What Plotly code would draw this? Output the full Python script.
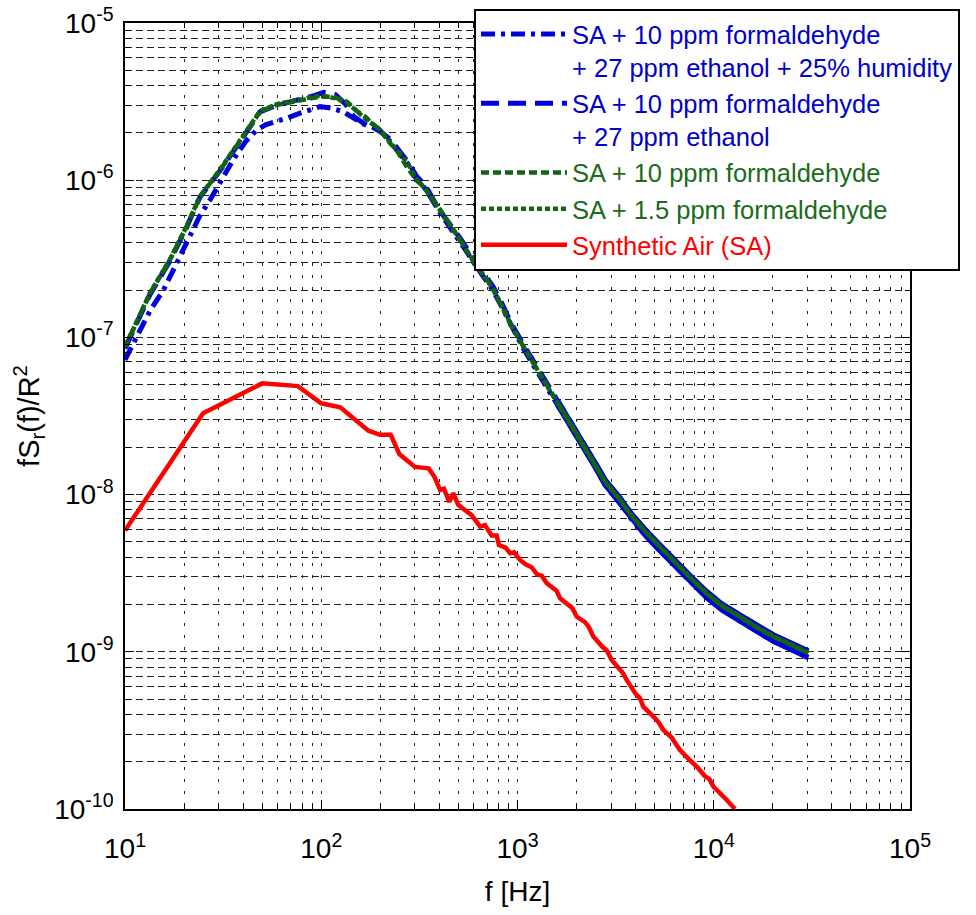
import plotly.graph_objects as go

# ---------------- data ----------------
f_hum = [10, 11.5, 13.5, 15.7, 18.5, 21.4, 24, 27.1, 31, 35.6, 41, 46.9, 52, 59.3, 68, 78, 88, 98.6, 112, 129, 145, 164, 182, 199,
         225, 250, 280, 306, 340, 403, 460, 509, 560, 619, 690, 753, 830, 916, 1071, 1250, 1400, 1600, 1800, 2050, 2300, 2550,
         2793, 3330, 3800, 4550, 5300, 6220, 7500, 9200, 11000, 13600, 16500, 20100, 25000, 30300]
v_hum = [7.2e-8, 1.01e-7, 1.5e-7, 2.0e-7, 3.0e-7, 4.38e-7, 5.9e-7, 7.48e-7, 1.0e-6, 1.35e-6, 1.75e-6, 2.09e-6, 2.25e-6, 2.36e-6, 2.5e-6, 2.67e-6, 2.82e-6, 2.94e-6, 2.88e-6, 2.73e-6, 2.5e-6, 2.28e-6, 2.18e-6, 2.07e-6,
         1.76e-6, 1.48e-6, 1.24e-6, 1.01e-6, 8.8e-7, 6.2e-7, 4.9e-7, 4.1e-7, 3.4e-7, 2.8e-7, 2.3e-7, 1.98e-7, 1.57e-7, 1.22e-7, 8.5e-8, 6.15e-8, 4.9e-8, 3.74e-8, 2.95e-8, 2.25e-8, 1.77e-8, 1.42e-8,
         1.16e-8, 8.85e-9, 7.0e-9, 5.4e-9, 4.42e-9, 3.64e-9, 2.84e-9, 2.22e-9, 1.85e-9, 1.57e-9, 1.35e-9, 1.17e-9, 1.03e-9, 9.2e-10]

f_eth = [10, 11, 13.4, 16.9, 20.6, 24.1, 30.5, 40, 48.7, 59.3, 70, 80, 92, 103, 118, 133, 146, 158, 170, 185, 199,
         225, 250, 280, 306, 340, 403, 460, 509, 560, 619, 690, 753, 830, 916, 1071, 1250, 1400, 1600, 1800, 2050, 2300, 2550,
         2793, 3330, 3800, 4550, 5300, 6220, 7500, 9200, 11000, 13600, 16500, 20100, 25000, 30300]
v_eth = [8.5e-8, 1.09e-7, 1.87e-7, 3.05e-7, 5.0e-7, 7.8e-7, 1.15e-6, 1.88e-6, 2.72e-6, 3.0e-6, 3.15e-6, 3.3e-6, 3.45e-6, 3.62e-6, 3.5e-6, 3.05e-6, 2.55e-6, 2.38e-6, 2.24e-6, 2.15e-6, 2.05e-6,
         1.82e-6, 1.54e-6, 1.28e-6, 1.06e-6, 9.2e-7, 6.35e-7, 5.15e-7, 4.3e-7, 3.58e-7, 2.95e-7, 2.43e-7, 2.09e-7, 1.66e-7, 1.27e-7, 9.0e-8, 6.5e-8, 5.15e-8, 3.95e-8, 3.13e-8, 2.38e-8, 1.87e-8, 1.51e-8,
         1.24e-8, 9.5e-9, 7.55e-9, 5.84e-9, 4.78e-9, 3.95e-9, 3.08e-9, 2.41e-9, 2.01e-9, 1.71e-9, 1.47e-9, 1.28e-9, 1.13e-9, 1.01e-9]

f_f10 = [10, 11, 13.4, 16.9, 20.6, 24.1, 30.5, 40, 48.7, 59.3, 70, 78, 88, 98.6, 115, 125, 135, 152, 170, 177, 199,
         224, 242, 272, 306, 331, 370, 403, 460, 509, 560, 619, 690, 753, 830, 916, 1071, 1250, 1400, 1600, 1800, 2050, 2300, 2550,
         2793, 3330, 3800, 4550, 5300, 6220, 7500, 9200, 11000, 13600, 16500, 20100, 25000, 30300]
v_f10 = [8.7e-8, 1.11e-7, 1.9e-7, 3.1e-7, 5.06e-7, 7.86e-7, 1.16e-6, 1.89e-6, 2.73e-6, 3.01e-6, 3.12e-6, 3.24e-6, 3.3e-6, 3.4e-6, 3.4e-6, 3.3e-6, 3.16e-6, 2.75e-6, 2.5e-6, 2.36e-6, 2.09e-6,
         1.72e-6, 1.56e-6, 1.22e-6, 1.0e-6, 9.1e-7, 7.6e-7, 6.5e-7, 5.1e-7, 4.17e-7, 3.4e-7, 2.82e-7, 2.4e-7, 2.0e-7, 1.58e-7, 1.23e-7, 8.73e-8, 6.3e-8, 5.05e-8, 3.85e-8, 3.05e-8, 2.32e-8, 1.82e-8, 1.47e-8,
         1.21e-8, 9.25e-9, 7.35e-9, 5.68e-9, 4.65e-9, 3.84e-9, 3.0e-9, 2.35e-9, 1.96e-9, 1.67e-9, 1.43e-9, 1.25e-9, 1.1e-9, 9.8e-10]

f_f15 = [10, 11, 13.4, 16.9, 20.6, 24.1, 30.5, 40, 48.7, 59.3, 70, 80, 91, 100, 110, 122, 135, 150, 165, 180, 199,
         224, 250, 280, 306, 340, 403, 460, 509, 560, 619, 690, 753, 830, 916, 1071, 1250, 1400, 1600, 1800, 2050, 2300, 2550,
         2793, 3330, 3800, 4550, 5300, 6220, 7500, 9200, 11000, 13600, 16500, 20100, 25000, 30300]
v_f15 = [8.9e-8, 1.12e-7, 1.92e-7, 3.12e-7, 5.1e-7, 7.9e-7, 1.17e-6, 1.9e-6, 2.75e-6, 3.05e-6, 3.15e-6, 3.28e-6, 3.4e-6, 3.45e-6, 3.38e-6, 3.28e-6, 3.1e-6, 2.8e-6, 2.5e-6, 2.3e-6, 2.1e-6,
         1.75e-6, 1.5e-6, 1.24e-6, 1.01e-6, 8.8e-7, 6.3e-7, 5.0e-7, 4.2e-7, 3.45e-7, 2.84e-7, 2.36e-7, 2.02e-7, 1.6e-7, 1.24e-7, 8.75e-8, 6.35e-8, 5.05e-8, 3.87e-8, 3.06e-8, 2.33e-8, 1.83e-8, 1.48e-8,
         1.2e-8, 9.3e-9, 7.4e-9, 5.7e-9, 4.67e-9, 3.86e-9, 3.02e-9, 2.36e-9, 1.97e-9, 1.68e-9, 1.44e-9, 1.26e-9, 1.11e-9, 9.9e-10]

f_sa = [10, 25, 50, 76, 100, 125, 174, 199, 226, 250, 300, 352, 377, 403, 422, 449, 471, 499, 584, 645, 683, 738, 783, 805,
        870, 916, 960, 1030, 1100, 1180, 1260, 1330, 1409, 1500, 1580, 1648, 1800, 1900, 2004, 2200, 2300, 2434, 2700, 2850,
        3020, 3300, 3450, 3600, 4000, 4200, 4375, 5000, 5250, 5533, 6100, 6400, 6730, 7400, 7800, 8190, 9000, 9500, 9950,
        10800, 11200, 11650, 12300, 12830]
v_sa = [5.9e-9, 3.29e-8, 5.1e-8, 4.9e-8, 3.81e-8, 3.59e-8, 2.55e-8, 2.40e-8, 2.40e-8, 1.81e-8, 1.50e-8, 1.47e-8, 1.30e-8, 1.07e-8, 1.09e-8, 9.0e-9, 1.02e-8, 8.6e-9, 7.4e-9, 6.25e-9, 6.4e-9, 5.5e-9, 5.5e-9, 4.78e-9,
        4.6e-9, 4.24e-9, 4.3e-9, 3.84e-9, 3.6e-9, 3.45e-9, 3.1e-9, 3.05e-9, 2.73e-9, 2.6e-9, 2.45e-9, 2.19e-9, 2.0e-9, 1.9e-9, 1.67e-9, 1.55e-9, 1.45e-9, 1.25e-9, 1.08e-9, 1.02e-9,
        8.87e-10, 7.7e-10, 7.3e-10, 6.62e-10, 5.4e-10, 5.1e-10, 4.48e-10, 3.8e-10, 3.55e-10, 3.18e-10, 2.85e-10, 2.6e-10, 2.37e-10, 2.1e-10, 1.98e-10, 1.86e-10, 1.62e-10, 1.55e-10, 1.39e-10,
        1.27e-10, 1.2e-10, 1.14e-10, 1.07e-10, 1.0e-10]

names = [
    '<span style="color:#0000cc">SA + 10 ppm formaldehyde<br>+ 27 ppm ethanol + 25% humidity</span>',
    '<span style="color:#0000cc">SA + 10 ppm formaldehyde<br>+ 27 ppm ethanol</span>',
    '<span style="color:#1a6b1a">SA + 10 ppm formaldehyde</span>',
    '<span style="color:#1a6b1a">SA + 1.5 ppm formaldehyde</span>',
    '<span style="color:#ff0000">Synthetic Air (SA)</span>',
]

x_tickvals = [1e1, 1e2, 1e3, 1e4, 1e5]
x_ticktext = ['10<sup>1</sup>', '10<sup>2</sup>', '10<sup>3</sup>', '10<sup>4</sup>', '10<sup>5</sup>']
y_tickvals = [1e-10, 1e-9, 1e-8, 1e-7, 1e-6, 1e-5]
y_ticktext = ['10<sup>-10</sup>', '10<sup>-9</sup>', '10<sup>-8</sup>', '10<sup>-7</sup>', '10<sup>-6</sup>', '10<sup>-5</sup>']

x_minor = [m * 10 ** e for e in range(1, 5) for m in range(2, 10)]
y_minor = [m * 10.0 ** e for e in range(-10, -5) for m in range(2, 10)]

# noisy high-frequency part of the measured spectra looks like a solid band
HF_START = 1500

# ---------------- figure ----------------
fig = go.Figure()
BLUE = '#0000dd'
GREEN = '#126412'


def hf(fs, vs):
    pairs = [(a, b) for a, b in zip(fs, vs) if a >= HF_START]
    return [p[0] for p in pairs], [p[1] for p in pairs]


fig.add_trace(go.Scatter(x=f_hum, y=v_hum, mode='lines', name=names[0],
                         line=dict(color=BLUE, width=5, dash='14px,6px,4px,6px')))
fig.add_trace(go.Scatter(x=f_eth, y=v_eth, mode='lines', name=names[1],
                         line=dict(color=BLUE, width=5, dash='18px,9px')))
for fs, vs in ((f_hum, v_hum), (f_eth, v_eth)):
    hx, hy = hf(fs, vs)
    fig.add_trace(go.Scatter(x=hx, y=hy, mode='lines', showlegend=False, hoverinfo='skip',
                             line=dict(color=BLUE, width=5.5)))
fig.add_trace(go.Scatter(x=f_f10, y=v_f10, mode='lines', name=names[2],
                         line=dict(color=GREEN, width=4.5, dash='8px,4px')))
fig.add_trace(go.Scatter(x=f_f15, y=v_f15, mode='lines', name=names[3],
                         line=dict(color=GREEN, width=4.5, dash='5px,3px')))
hx, hy = hf(f_f10, v_f10)
fig.add_trace(go.Scatter(x=hx, y=hy, mode='lines', showlegend=False, hoverinfo='skip',
                         line=dict(color=GREEN, width=4)))
fig.add_trace(go.Scatter(x=f_sa, y=v_sa, mode='lines', name=names[4],
                         line=dict(color='#ff0000', width=4.5)))

grid_common = dict(gridcolor='#222222', gridwidth=1)
fig.update_xaxes(
    type='log', range=[1, 5], showline=True, linecolor='black', linewidth=1.5, mirror='allticks',
    ticks='inside', ticklen=9, tickcolor='black', tickwidth=1,
    tickmode='array', tickvals=x_tickvals, ticktext=x_ticktext, ticklabeloverflow='allow',
    tickfont=dict(family='Liberation Sans Narrow, Arial Narrow, Liberation Sans, Arial', size=28, color='black'),
    ticklabelstandoff=14,
    showgrid=True, griddash='3px,9px', **grid_common, zeroline=False,
    minor=dict(tickmode='array', tickvals=x_minor, ticks='inside', ticklen=5, tickcolor='black',
               showgrid=True, griddash='3px,9px', gridcolor='#222222', gridwidth=1),
    title=dict(text='f [Hz]', font=dict(family='Liberation Sans Narrow, Arial Narrow, Liberation Sans, Arial', size=28, color='black'),
               standoff=18),
)
fig.update_yaxes(
    type='log', range=[-10, -5], showline=True, linecolor='black', linewidth=1.5, mirror='allticks',
    ticks='inside', ticklen=9, tickcolor='black', tickwidth=1,
    tickmode='array', tickvals=y_tickvals, ticktext=y_ticktext, ticklabeloverflow='allow',
    tickfont=dict(family='Liberation Sans, Arial', size=28, color='black'),
    ticklabelstandoff=4,
    showgrid=True, griddash='7px,4px', **grid_common, zeroline=False,
    minor=dict(tickmode='array', tickvals=y_minor, ticks='inside', ticklen=5, tickcolor='black',
               showgrid=True, griddash='7px,4px', gridcolor='#222222', gridwidth=1),
    title=dict(text='fS<sub>r</sub>(f)/R<sup>2</sup>', font=dict(family='Liberation Sans, Arial', size=29, color='black'),
               standoff=6),
)
fig.update_layout(
    width=976, height=915,
    margin=dict(l=125, r=66, t=23, b=106, autoexpand=False),
    paper_bgcolor='white', plot_bgcolor='white',
    font=dict(family='Liberation Sans, Arial', color='black'),
    showlegend=True,
    legend=dict(x=0.4446, y=1.018, xanchor='left', yanchor='top',
                bgcolor='white', bordercolor='black', borderwidth=2,
                font=dict(family='Liberation Sans, Arial', size=25.5),
                itemwidth=86, valign='top', tracegroupgap=0),
)
fig.write_html('out.html', config={'displayModeBar': False},
               post_script="document.body.style.margin='0';")
